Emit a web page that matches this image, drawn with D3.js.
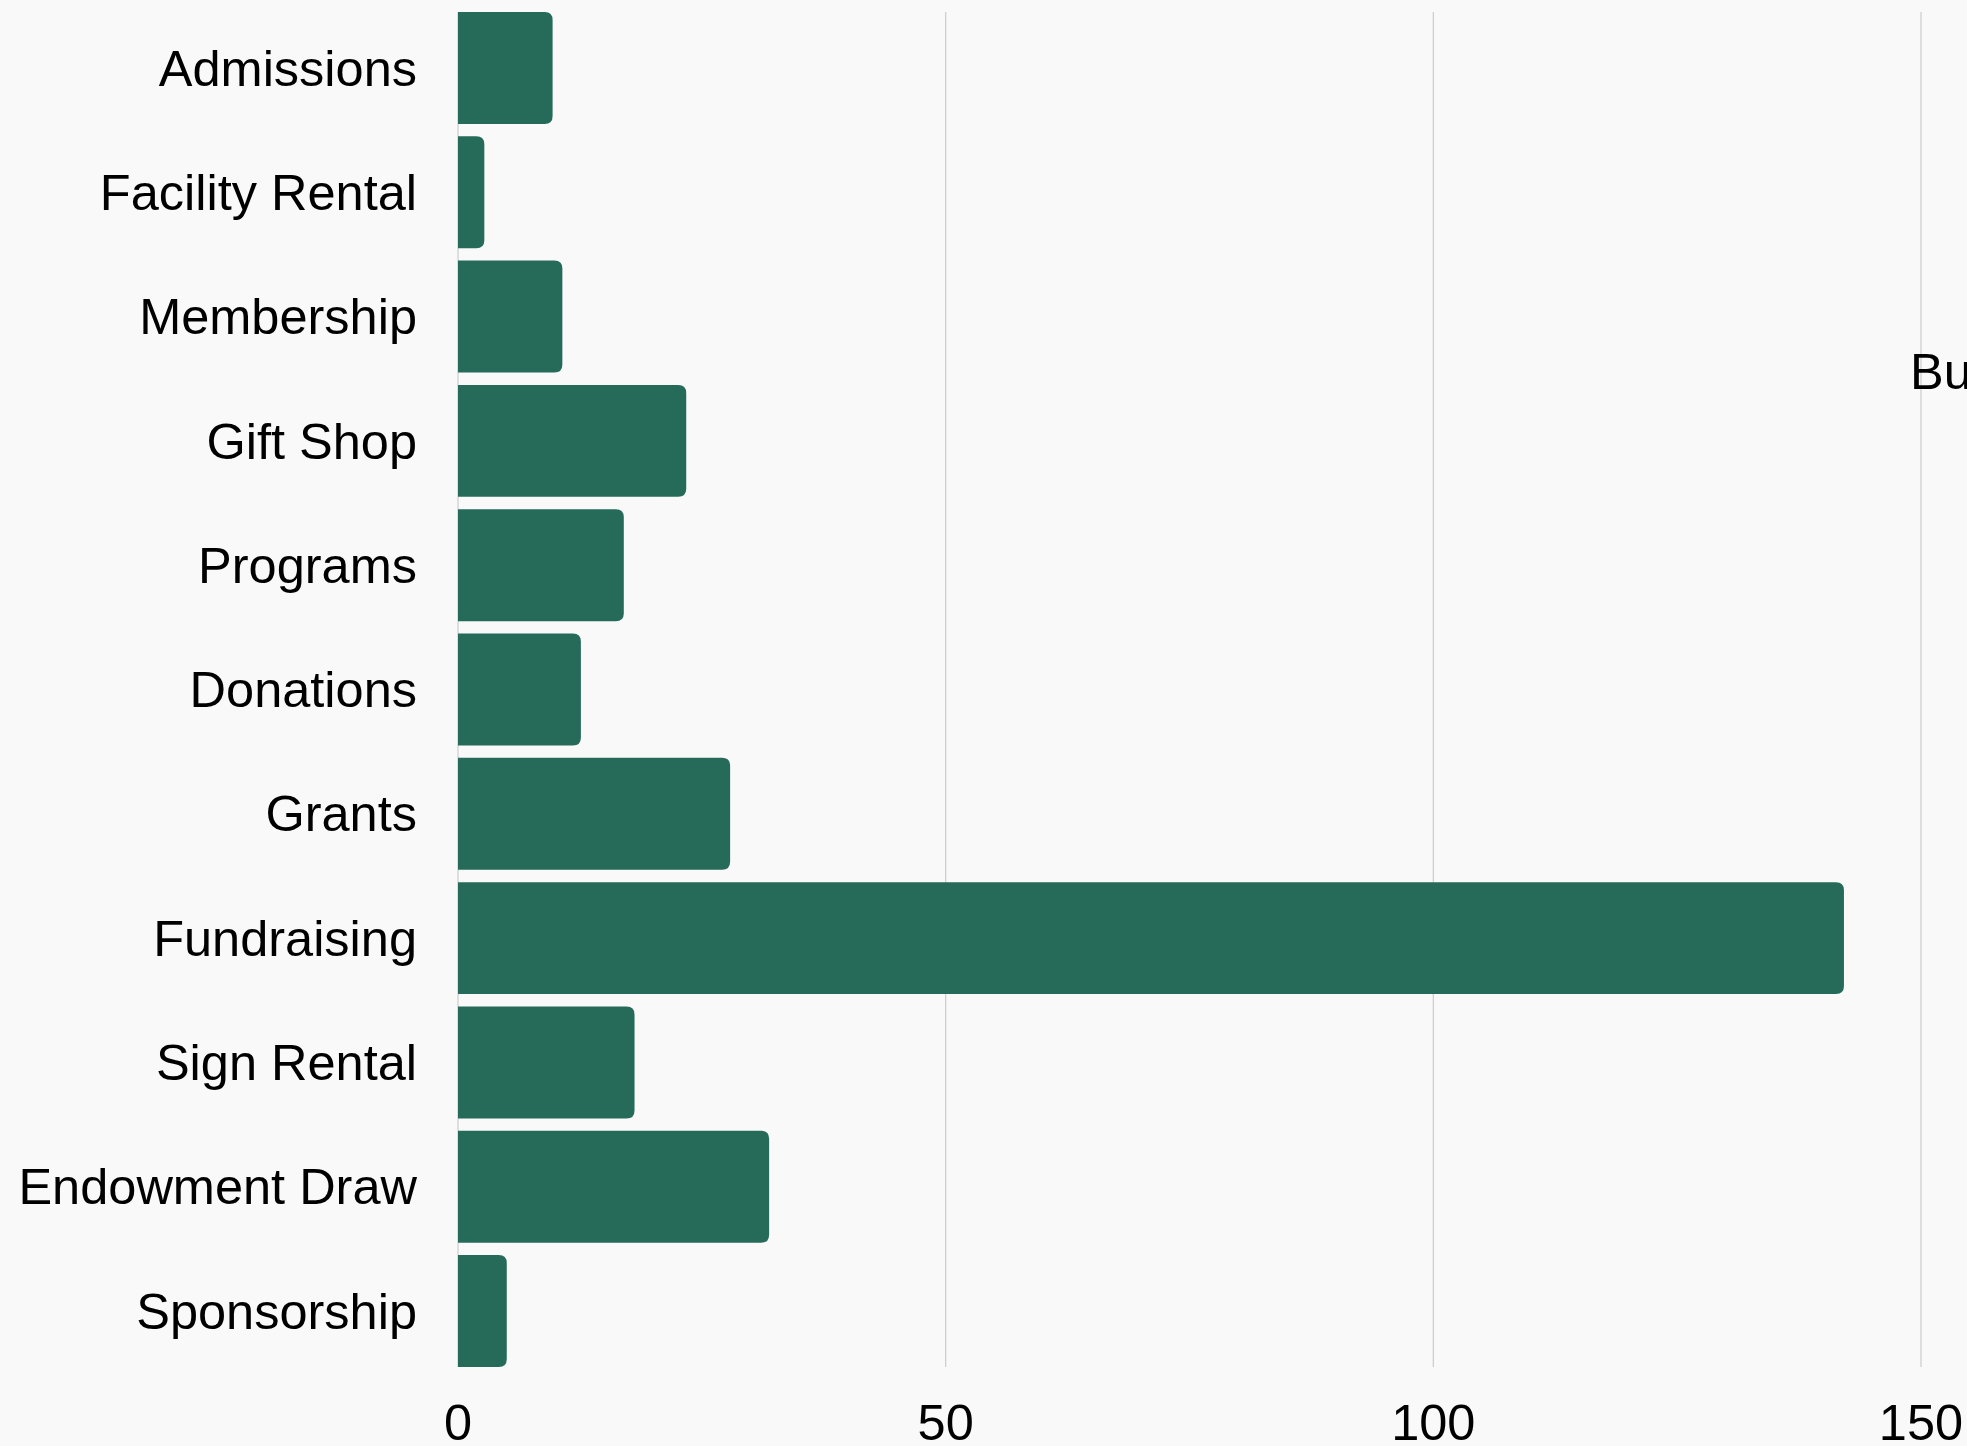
<!DOCTYPE html>
<html>
<head>
<meta charset="utf-8">
<script src="https://cdn.jsdelivr.net/npm/d3@7"></script>
<style>
  html, body { margin: 0; padding: 0; background: #f9f9f9; overflow: hidden; }
  svg { display: block; font-family: "Liberation Sans", Arial, sans-serif; }
</style>
</head>
<body>
<script>
// Revenue sources and amounts
const categories = ["Admissions", "Facility Rental", "Membership", "Gift Shop", "Programs",
  "Donations", "Grants", "Fundraising", "Sign Rental", "Endowment Draw", "Sponsorship"];
const values = [9.7, 2.7, 10.7, 23.4, 17.0, 12.6, 27.9, 142.1, 18.1, 31.9, 5.0];
const xTicks = [0, 50, 100, 150];
const sideLabel = "Budget";

const W = 1967, H = 1446;
const svg = d3.select("body").append("svg").attr("width", W).attr("height", H);
svg.append("rect").attr("width", W).attr("height", H).attr("fill", "#f9f9f9");

const x = d3.scaleLinear().domain([0, 150]).range([458, 1921]);
const y = d3.scaleBand().domain(categories).range([12, 1367]).paddingInner(0.1).paddingOuter(0);

// vertical grid lines
svg.append("g").selectAll("line").data(xTicks).join("line")
  .attr("x1", d => x(d)).attr("x2", d => x(d))
  .attr("y1", 12).attr("y2", 1367)
  .attr("stroke", "#cfcfcf").attr("stroke-width", 1.3);

// bars with rounded right end
const r = 8;
function barPath(v, cat) {
  const x0 = x(0), x1 = x(v), y0 = y(cat), h = y.bandwidth();
  const rr = Math.min(r, (x1 - x0) / 2, h / 2);
  return `M${x0},${y0}H${x1 - rr}Q${x1},${y0} ${x1},${y0 + rr}V${y0 + h - rr}Q${x1},${y0 + h} ${x1 - rr},${y0 + h}H${x0}Z`;
}
svg.append("g").selectAll("path").data(categories).join("path")
  .attr("d", (c, i) => barPath(values[i], c))
  .attr("fill", "#266b5a");

// category labels
svg.append("g").selectAll("text").data(categories).join("text")
  .attr("x", 417)
  .attr("y", c => y(c) + y.bandwidth() / 2)
  .attr("dy", "0.35em")
  .attr("text-anchor", "end")
  .attr("font-size", 50.5)
  .attr("fill", "#000")
  .text(c => c);

// x tick labels
svg.append("g").selectAll("text").data(xTicks).join("text")
  .attr("x", d => x(d))
  .attr("y", 1440)
  .attr("text-anchor", "middle")
  .attr("font-size", 50.5)
  .attr("fill", "#000")
  .text(d => d);

// side label at right edge
svg.append("text")
  .attr("x", 1910).attr("y", 389)
  .attr("font-size", 50.5)
  .attr("fill", "#000")
  .text(sideLabel);
</script>
</body>
</html>
